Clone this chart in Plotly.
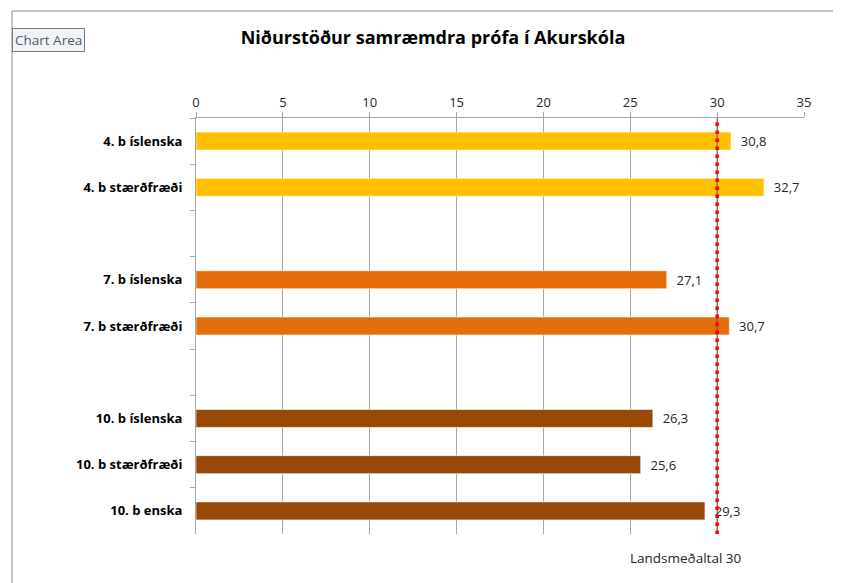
import plotly.graph_objects as go

categories = ["4. b íslenska", "4. b stærðfræði", " ", "7. b íslenska", "7. b stærðfræði", "  ",
              "10. b íslenska", "10. b stærðfræði", "10. b enska"]
values = [30.8, 32.7, None, 27.1, 30.7, None, 26.3, 25.6, 29.3]
colors = ["#FFC000", "#FFC000", "#FFFFFF", "#E46C0A", "#E46C0A", "#FFFFFF",
          "#984807", "#984807", "#984807"]
national_avg = 30
x_ticks = [0, 5, 10, 15, 20, 25, 30, 35]

# page body has an 8px margin: work in window pixels and shift by OFF
OFF = 8
W, H = 841 - OFF, 583 - OFF
L, T = 196 - OFF, 118 - OFF
R = 841 - 804
B = 583 - 534
pw, ph = W - L - R, H - T - B

def px_x(p):
    return (p - OFF - L) / pw

def px_y(p):
    return (H - B - (p - OFF)) / ph

FONT = "'Open Sans', sans-serif"

fig = go.Figure()
fig.add_trace(go.Bar(
    y=categories, x=values, orientation="h",
    marker=dict(color=colors, line=dict(color="rgba(255,255,255,0.6)", width=1)),
    width=0.39,
    text=[None if v is None else "\u00a0\u00a0" + f"{v:.1f}".replace(".", ",") for v in values],
    textposition="outside",
    textfont=dict(size=13, color="#262626", family=FONT),
    cliponaxis=False,
    hoverinfo="skip",
))

fig.add_shape(type="line", xref="x", yref="paper", x0=national_avg, x1=national_avg, y0=0, y1=1,
              line=dict(color="#555555", width=1))
fig.add_shape(type="line", xref="x", yref="paper", x0=national_avg, x1=national_avg, y0=0, y1=1,
              line=dict(color="#FF0000", width=3.5, dash="3.5px,4.5px"))

# outer chart border (top and left)
fig.add_shape(type="line", xref="paper", yref="paper", x0=px_x(12), x1=px_x(841), y0=px_y(11), y1=px_y(11),
              line=dict(color="#8c8c8c", width=1))
fig.add_shape(type="line", xref="paper", yref="paper", x0=px_x(12), x1=px_x(12), y0=px_y(11), y1=px_y(583),
              line=dict(color="#8c8c8c", width=1))

fig.add_annotation(text="Chart Area", xref="paper", yref="paper", x=px_x(12), y=px_y(40),
                   xanchor="left", yanchor="middle", showarrow=False,
                   font=dict(size=13.5, color="#4b5a6e", family=FONT),
                   bgcolor="#f2f3f7", bordercolor="#7a7a7a", borderwidth=1, borderpad=2)

fig.add_annotation(text="Landsmeðaltal " + str(national_avg), xref="paper", yref="paper",
                   x=px_x(686), y=px_y(558), xanchor="center", yanchor="middle", showarrow=False,
                   font=dict(size=13.5, color="#262626", family=FONT))

fig.update_layout(
    width=W, height=H,
    margin=dict(l=L, r=R, t=T, b=B),
    paper_bgcolor="white", plot_bgcolor="white",
    showlegend=False,
    title=dict(text="<b>Niðurstöður samræmdra prófa í Akurskóla</b>",
               x=(433 - OFF) / W, xanchor="center",
               y=1 - (38 - OFF) / H, yanchor="middle",
               font=dict(size=18, color="#000000", family=FONT)),
    xaxis=dict(side="top", range=[0, 35], tickvals=x_ticks, ticktext=[str(t) for t in x_ticks],
               showgrid=True, gridcolor="#a6a6a6", gridwidth=1, zeroline=False,
               showline=True, linecolor="#a6a6a6", ticks="outside", ticklen=5, tickcolor="#a6a6a6",
               tickfont=dict(size=13, color="#262626", family=FONT)),
    yaxis=dict(type="category", categoryorder="array", categoryarray=categories,
               autorange="reversed", showline=True, linecolor="#a6a6a6",
               ticks="outside", ticklen=5, tickcolor="#a6a6a6", tickson="boundaries",
               showgrid=False, ticklabelstandoff=10,
               tickfont=dict(size=13, color="#000000", family=FONT, weight="bold")),
)

fig.write_html("out.html")
